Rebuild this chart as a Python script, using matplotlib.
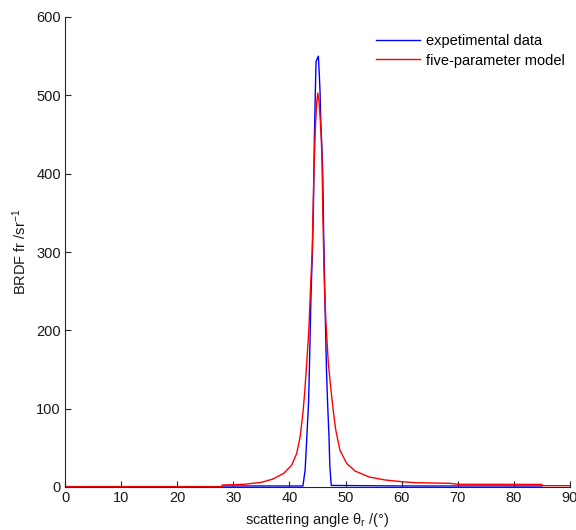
import matplotlib
matplotlib.use("Agg")
import matplotlib.pyplot as plt

plt.rcParams['font.family'] = ['Liberation Sans', 'DejaVu Sans']
plt.rcParams['mathtext.fontset'] = 'custom'
plt.rcParams['mathtext.rm'] = 'Liberation Sans'
plt.rcParams['mathtext.it'] = 'Liberation Sans:italic'

# experimental data (angle in degrees, BRDF in 1/sr)
exp_angle = [28.0, 35.0, 42.4, 42.8, 43.1, 43.4, 43.55, 43.85, 44.08, 44.26,
             44.44, 44.62, 44.74, 44.9, 45.15, 45.3, 45.45, 45.6, 45.75, 45.93,
             46.1, 46.35, 46.6, 46.8, 47.05, 47.2, 47.45, 60.0, 85.0]
exp_brdf = [1.3, 1.3, 1.3, 22, 64, 107, 149, 247, 298, 350,
            443, 507, 543, 546, 550, 530, 505, 462, 440, 401,
            324, 230, 149, 107, 64, 26, 2, 1.3, 1.3]

# five-parameter model
mod_angle = [0.0, 28.0, 28.05, 32.0, 35.0, 37.0, 39.0, 40.4, 41.3, 41.9,
             42.4, 42.75, 43.1, 43.45, 43.8, 44.05, 44.35, 44.6, 44.85, 45.05,
             45.3, 45.6, 45.8, 45.95, 46.22, 46.5, 46.93, 47.4, 47.8, 48.25,
             49.0, 50.2, 51.7, 54.1, 57.0, 60.0, 62.4, 68.6, 70.0, 85.0,
             85.05, 90.0]
mod_brdf = [0.5, 0.5, 2.5, 3.5, 6.0, 10.0, 17.5, 28, 43, 64,
            94, 124, 160, 200, 260, 300, 400, 456, 490, 503,
            490, 456, 420, 350, 260, 210, 158, 124, 98, 73,
            47, 30, 20.4, 13, 9, 6.8, 5.5, 4.7, 3.5, 3.3,
            1.7, 1.7]

x_ticks = [0, 10, 20, 30, 40, 50, 60, 70, 80, 90]
y_ticks = [0, 100, 200, 300, 400, 500, 600]

FS = 10.5
fig = plt.figure(figsize=(5.76, 5.30), dpi=100)
ax = fig.add_axes([65/576, 1-487/530, (570-65)/576, (487-17)/530])

ax.plot(exp_angle, exp_brdf, color='#0000ff', lw=1.0, label='expetimental data')
ax.plot(mod_angle, mod_brdf, color='#ff0000', lw=1.0, label='five-parameter model')

ax.set_xlim(0, 90)
ax.set_ylim(0, 600)
ax.set_xticks(x_ticks)
ax.set_yticks(y_ticks)
ax.spines['top'].set_visible(False)
ax.spines['right'].set_visible(False)
for s in ('left', 'bottom'):
    ax.spines[s].set_color('#262626')
    ax.spines[s].set_linewidth(0.8)
ax.tick_params(direction='in', length=4, width=0.8, labelsize=FS, pad=3,
               colors='#262626', labelcolor='#1a1a1a')

ax.set_xlabel('scattering angle θ$_{\\rm r}$ /(°)', fontsize=FS, labelpad=4, color='#1a1a1a')
ax.set_ylabel('BRDF fr /sr$^{-1}$', fontsize=FS, labelpad=5, color='#1a1a1a')

leg = ax.legend(loc='upper left', bbox_to_anchor=(376/576, 1-34/530),
                bbox_transform=fig.transFigure, frameon=False, fontsize=FS,
                handlelength=3.0, handletextpad=0.45, borderpad=0,
                borderaxespad=0, labelspacing=0.38)

fig.savefig('out.png', dpi=100)
